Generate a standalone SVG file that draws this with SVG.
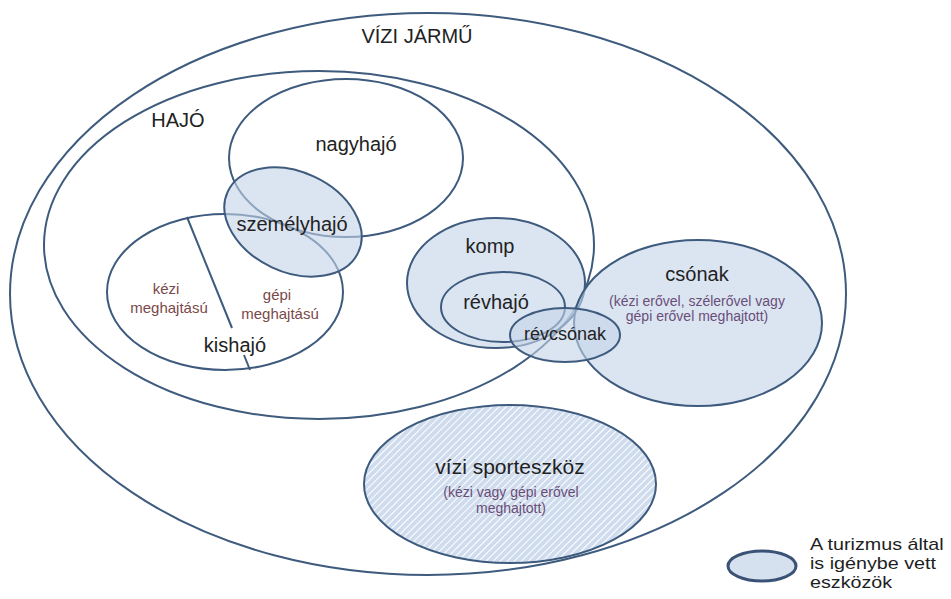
<svg xmlns="http://www.w3.org/2000/svg" width="951" height="599" viewBox="0 0 951 599">
<style>
.ln{fill:none;stroke:#3e5b7e;stroke-width:2}
.fl{fill:#c3d3e9;fill-opacity:0.6;stroke:#3e5b7e;stroke-width:2}
.lb{font-family:"Liberation Sans",Arial,sans-serif;font-size:20px;fill:#222222;text-anchor:middle}
.sm{font-family:"Liberation Sans",Arial,sans-serif;font-size:14px;fill:#6a4e78;text-anchor:middle}
.br{font-family:"Liberation Sans",Arial,sans-serif;font-size:15px;fill:#7a4848;text-anchor:middle}
.lg{font-family:"Liberation Sans",Arial,sans-serif;font-size:17px;fill:#1e1e1e}
</style>
<defs>
<pattern id="hatch" patternUnits="userSpaceOnUse" width="5" height="5" patternTransform="rotate(45)">
<rect width="5" height="5" fill="#cfdcee"/>
<line x1="0" y1="0" x2="0" y2="5" stroke="#ffffff" stroke-width="2"/>
</pattern>
</defs>
<rect width="951" height="599" fill="#ffffff"/>
<g id="vizi-jarmu">
<ellipse class="ln" cx="428" cy="294" rx="418" ry="281"/>
<text class="lb" x="417" y="43">VÍZI JÁRMŰ</text>
</g>
<g id="hajo">
<ellipse class="ln" cx="319" cy="245" rx="275" ry="174"/>
<text class="lb" x="178" y="127">HAJÓ</text>
</g>
<g id="nagyhajo">
<ellipse class="ln" cx="346" cy="158" rx="117" ry="79"/>
<text class="lb" x="356" y="151">nagyhajó</text>
</g>
<g id="kishajo">
<ellipse class="ln" cx="225" cy="292" rx="118" ry="78"/>
<text class="br" x="166" y="294">kézi</text>
<text class="br" x="169" y="313">meghajtású</text>
<text class="br" x="277" y="300">gépi</text>
<text class="br" x="280" y="319">meghajtású</text>
<text class="lb" x="235" y="352">kishajó</text>
</g>
<g id="connectors">
<line class="ln" x1="187" y1="217" x2="232" y2="328"/>
<line class="ln" x1="244" y1="355" x2="250" y2="370"/>
</g>
<g id="szemelyhajo">
<ellipse class="fl" cx="293" cy="222" rx="72" ry="50" transform="rotate(25 293 222)"/>
<text class="lb" x="292" y="231">személyhajó</text>
</g>
<g id="komp">
<ellipse class="fl" cx="496" cy="283" rx="89" ry="65"/>
<text class="lb" x="490" y="253">komp</text>
</g>
<g id="revhajo">
<ellipse class="ln" cx="503" cy="307" rx="62" ry="35"/>
<text class="lb" x="496" y="309">révhajó</text>
</g>
<g id="csonak">
<ellipse class="fl" cx="698" cy="323" rx="124" ry="83"/>
<text class="lb" x="697" y="281">csónak</text>
<text class="sm" x="697" y="306">(kézi erővel, szélerővel vagy</text>
<text class="sm" x="697" y="321">gépi erővel meghajtott)</text>
</g>
<g id="revcsonak">
<ellipse class="fl" cx="565" cy="335" rx="55" ry="27"/>
<text class="lb" x="565" y="340" style="font-size:18px">révcsónak</text>
</g>
<g id="sporteszkoz">
<ellipse cx="510" cy="484" rx="146" ry="79" fill="url(#hatch)" stroke="#3e5b7e" stroke-width="2"/>
<text class="lb" x="510" y="474" style="font-size:21px">vízi sporteszköz</text>
<text class="sm" x="511" y="497">(kézi vagy gépi erővel</text>
<text class="sm" x="511" y="513">meghajtott)</text>
</g>
<g id="legend">
<ellipse cx="762" cy="566" rx="34" ry="15" fill="#d6e1f0" stroke="#3a5275" stroke-width="3"/>
<g transform="translate(810 0) scale(1.16 1) translate(-810 0)">
<text class="lg" x="810" y="550">A turizmus által</text>
<text class="lg" x="810" y="569">is igénybe vett</text>
<text class="lg" x="810" y="588">eszközök</text>
</g>
</g>
</svg>
